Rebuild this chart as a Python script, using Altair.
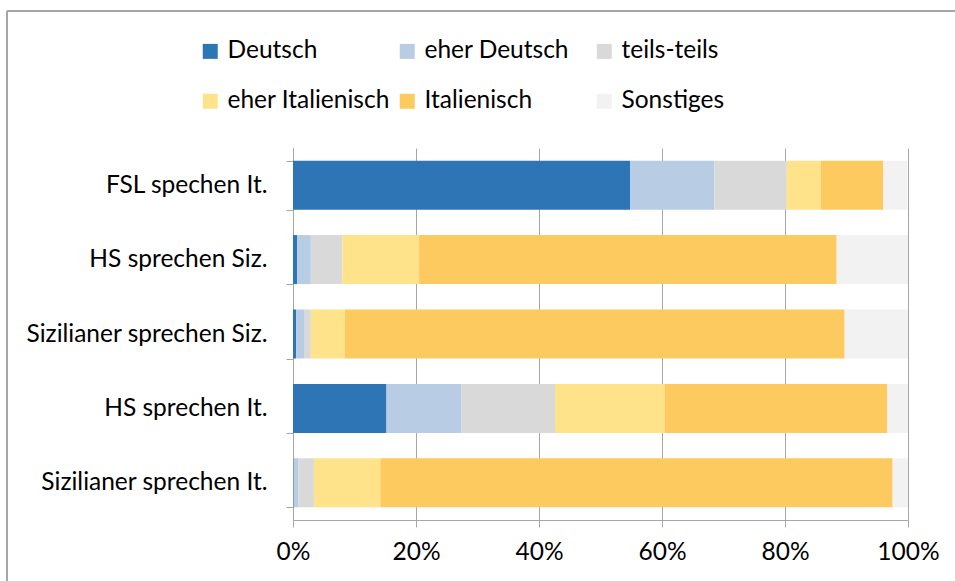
import altair as alt
import pandas as pd

categories = ["FSL spechen It.", "HS sprechen Siz.", "Sizilianer sprechen Siz.",
              "HS sprechen It.", "Sizilianer sprechen It."]
series = ["Deutsch", "eher Deutsch", "teils-teils", "eher Italienisch", "Italienisch", "Sonstiges"]
colors = ["#2E75B6", "#B8CCE4", "#D9D9D9", "#FFE38A", "#FDCA60", "#F2F2F2"]

deutsch = [54.8, 0.7, 0.5, 15.2, 0.1]
eher_deutsch = [13.7, 2.2, 1.4, 12.2, 0.8]
teils = [11.8, 5.1, 1.0, 15.2, 2.5]
eher_it = [5.5, 12.5, 5.5, 17.8, 10.8]
italienisch = [10.2, 67.9, 81.3, 36.2, 83.3]
sonstiges = [3.9, 11.6, 10.3, 3.4, 2.5]

vals = [deutsch, eher_deutsch, teils, eher_it, italienisch, sonstiges]
rows = []
for si, (s, v) in enumerate(zip(series, vals)):
    for c, x in zip(categories, v):
        rows.append({"cat": c, "series": s, "order": si, "value": x / 100.0})
df = pd.DataFrame(rows)

FONT = "Lato"
FS = 24.5
W, H = 615, 372
PL, PT = 293, 148

bars = alt.Chart(df).mark_bar(size=49).encode(
    y=alt.Y("cat:N", sort=categories, title=None,
            scale=alt.Scale(paddingInner=0.34, paddingOuter=0.17),
            axis=alt.Axis(labelFont=FONT, labelFontSize=FS, labelColor="#000000",
                          tickBand="extent", tickSize=7, tickColor="#A6A6A6",
                          domainColor="#A6A6A6", labelPadding=19, grid=False,
                          labelLimit=400)),
    x=alt.X("value:Q", stack="zero", title=None,
            scale=alt.Scale(domain=[0, 1], nice=False),
            axis=alt.Axis(format=".0%", values=[0, 0.2, 0.4, 0.6, 0.8, 1.0],
                          labelFont=FONT, labelFontSize=FS, labelColor="#000000",
                          tickSize=7, tickColor="#A6A6A6", domainColor="#A6A6A6",
                          gridColor="#A6A6A6", grid=True, labelPadding=13,
                          labelFlush=False)),
    color=alt.Color("series:N", sort=series,
                    scale=alt.Scale(domain=series, range=colors),
                    legend=alt.Legend(title=None, orient="none", legendX=-95, legendY=-109,
                                      columns=3, direction="horizontal", gridAlign="all",
                                      symbolType="square", symbolSize=225, symbolStrokeWidth=0,
                                      labelFont=FONT, labelFontSize=FS, labelColor="#000000",
                                      labelOffset=5, columnPadding=5, rowPadding=25,
                                      labelLimit=400)),
    order=alt.Order("order:Q", sort="ascending"),
)

border_v = alt.Chart(df).mark_rule(color="#A6A6A6", strokeWidth=1.5).encode(
    x=alt.value(-286), y=alt.value(-137), y2=alt.value(H + 80))
border_h = alt.Chart(df).mark_rule(color="#A6A6A6", strokeWidth=1.5).encode(
    x=alt.value(-286), x2=alt.value(W + 80), y=alt.value(-137))

chart = alt.layer(bars, border_v, border_h).properties(
    width=W, height=H,
    autosize=alt.AutoSizeParams(type="none"),
    padding={"left": PL, "top": PT, "right": 955 - PL - W, "bottom": 581 - PT - H},
    background="#FFFFFF",
).configure_view(stroke=None)

chart.save("out.html", embed_options={"renderer": "svg", "actions": False})
